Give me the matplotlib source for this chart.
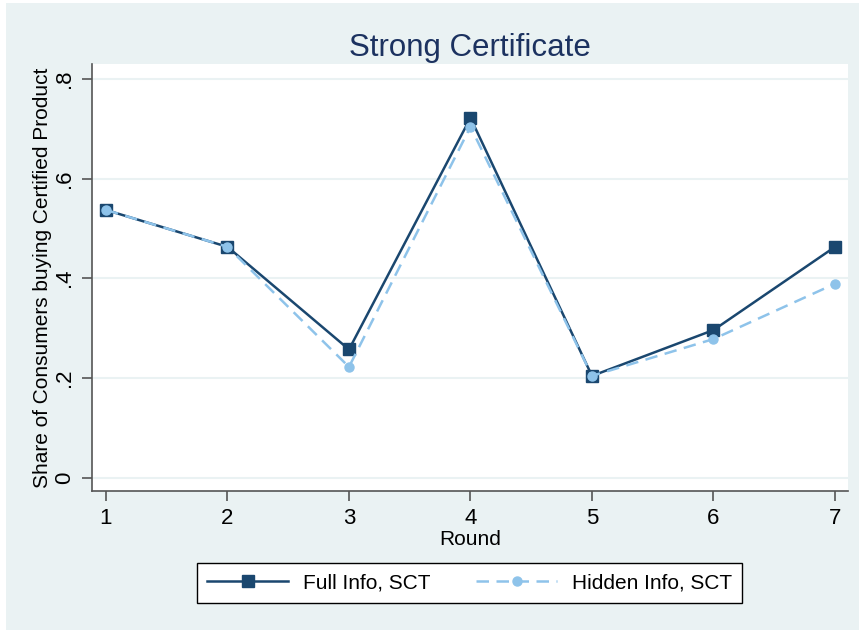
import matplotlib.pyplot as plt
from matplotlib.patches import Rectangle

rounds = [1, 2, 3, 4, 5, 6, 7]
full_info = [0.537, 0.463, 0.257, 0.722, 0.204, 0.296, 0.463]
hidden_info = [0.537, 0.463, 0.222, 0.704, 0.204, 0.278, 0.389]
yticks = [0, 0.2, 0.4, 0.6, 0.8]
ytick_labels = ["0", ".2", ".4", ".6", ".8"]

navy = "#1a476f"
light = "#8ec3ea"
panel = "#eaf2f3"

plt.rcParams['font.family'] = ['Liberation Sans', 'DejaVu Sans']

W, H = 859, 630
fig = plt.figure(figsize=(W / 100, H / 100), dpi=100, facecolor="white")
# light panel behind the whole graph
fig.patches.append(Rectangle((6 / W, 0), 1 - 6 / W, 1 - 3 / H, transform=fig.transFigure,
                             facecolor=panel, edgecolor="none", zorder=-10))

ax = fig.add_axes([92 / W, 1 - 491 / H, (848 - 92) / W, (491 - 64) / H])
ax.set_zorder(1)
ax.set_facecolor("white")

ax.plot(rounds, full_info, color=navy, lw=1.8, marker="s", ms=8.5,
        markerfacecolor=navy, markeredgecolor=navy, label="Full Info, SCT", zorder=3)
ax.plot(rounds, hidden_info, color=light, lw=1.8, ls=(0, (5, 3)), marker="o", ms=6.5,
        markerfacecolor=light, markeredgecolor=light, label="Hidden Info, SCT", zorder=4)

ax.set_xlim(0.885, 7.107)
ax.set_ylim(-0.027, 0.83)
ax.set_xticks(rounds)
ax.set_yticks(yticks)
ax.set_yticklabels(ytick_labels, rotation=90, va="center")
ax.grid(axis="y", color=panel, lw=1.5, zorder=0)
ax.set_axisbelow(True)

for s in ["top", "right"]:
    ax.spines[s].set_visible(False)
for s in ["left", "bottom"]:
    ax.spines[s].set_color("#555555")
    ax.spines[s].set_linewidth(1.2)
ax.tick_params(axis="both", direction="out", length=7, width=1.2, color="#555555",
               labelsize=16, pad=5)

ax.set_xlabel("Round", fontsize=15, labelpad=1)
ax.set_ylabel("Share of Consumers buying Certified Product", fontsize=15, labelpad=2)
ax.set_title("Strong Certificate", fontsize=22.5, color="#1c3260", pad=6)

leg = fig.legend(loc="center", bbox_to_anchor=(469.5 / W, 1 - 583 / H), ncol=2,
                 fontsize=15, frameon=True, fancybox=False, handlelength=3.9,
                 columnspacing=2.2, borderpad=0.5, handletextpad=0.7, framealpha=1)
leg.get_frame().set_edgecolor("black")
leg.get_frame().set_linewidth(1.0)
leg.get_frame().set_facecolor("white")

fig.savefig("out.png", dpi=100, facecolor="white")
